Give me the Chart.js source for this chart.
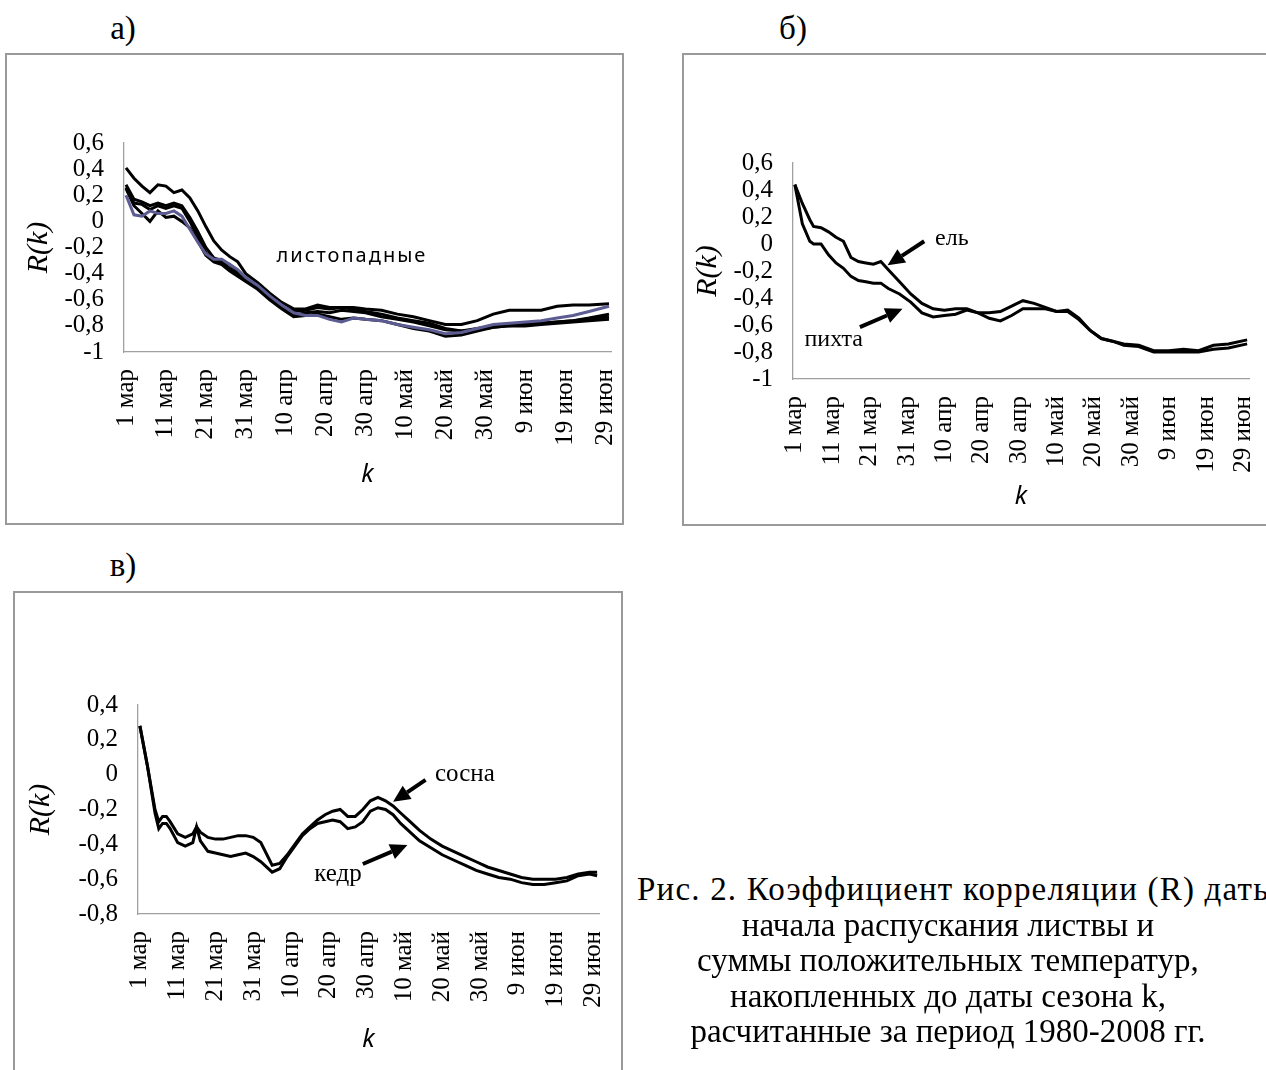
<!DOCTYPE html>
<html lang="ru">
<head>
<meta charset="utf-8">
<title>R(k)</title>
<script src="https://cdn.jsdelivr.net/npm/chart.js@4.4.1/dist/chart.umd.min.js"></script>
<style>
  html, body { margin:0; padding:0; background:#fff; }
  body { width:1266px; height:1070px; overflow:hidden; position:relative; font-family:"Liberation Serif", serif; color:#000; }
  .frame { position:absolute; border:2px solid #9a9a9a; box-sizing:border-box; }
  canvas { position:absolute; }
  .tag { position:absolute; width:60px; text-align:center; font-size:33px; line-height:34px; }
  .cap { position:absolute; font-size:33px; line-height:35.5px; white-space:nowrap; }
  .cap.first { left:637px; top:872px; letter-spacing:1.2px; }
  .cap.rest { left:548px; top:907.5px; width:800px; text-align:center; }
</style>
</head>
<body>
<div class="tag" style="left:93px;top:11px">а)</div>
<div class="tag" style="left:763px;top:11px">б)</div>
<div class="tag" style="left:93px;top:548px">в)</div>

<div class="frame" style="left:5px;top:53px;width:619px;height:472px"></div>
<div class="frame" style="left:682px;top:53px;width:700px;height:473px"></div>
<div class="frame" style="left:13px;top:591px;width:610px;height:500px"></div>

<canvas id="chartA" width="619" height="472" style="left:5px;top:53px"></canvas>
<canvas id="chartB" width="584" height="473" style="left:682px;top:53px"></canvas>
<canvas id="chartC" width="610" height="479" style="left:13px;top:591px"></canvas>

<div class="cap first">Рис. 2. Коэффициент корреляции (R) даты</div>
<div class="cap rest">начала распускания листвы и<br>суммы положительных температур,<br>накопленных до даты сезона k,<br>расчитанные за период 1980-2008 гг.</div>

<script>
// x axis: day index from 1 March (0) to 30 June (121)
var xTickDays = [0, 10, 20, 30, 40, 50, 60, 70, 80, 90, 100, 110, 120];
var xTickLabels = ['1 мар', '11 мар', '21 мар', '31 мар', '10 апр', '20 апр', '30 апр',
                   '10 май', '20 май', '30 май', '9 июн', '19 июн', '29 июн'];

var yTicksAB = [-1, -0.8, -0.6, -0.4, -0.2, 0, 0.2, 0.4, 0.6];
var yLabelsAB = ['-1', '-0,8', '-0,6', '-0,4', '-0,2', '0', '0,2', '0,4', '0,6'];
var yTicksC = [-0.8, -0.6, -0.4, -0.2, 0, 0.2, 0.4];
var yLabelsC = ['-0,8', '-0,6', '-0,4', '-0,2', '0', '0,2', '0,4'];

// а) листопадные
var daysA = [0,2,4,6,8,10,12,14,16,18,20,22,24,26,28,30,33,36,39,42,45,48,51,54,57,60,64,68,72,76,80,84,88,92,96,100,104,108,112,116,121];
var decid1 = [0.41,0.33,0.27,0.22,0.28,0.27,0.22,0.24,0.18,0.08,-0.04,-0.15,-0.22,-0.27,-0.31,-0.40,-0.47,-0.55,-0.62,-0.67,-0.67,-0.64,-0.66,-0.66,-0.66,-0.67,-0.68,-0.71,-0.73,-0.76,-0.79,-0.79,-0.76,-0.71,-0.68,-0.68,-0.68,-0.65,-0.64,-0.64,-0.63];
var decid2 = [0.28,0.17,0.15,0.12,0.14,0.12,0.14,0.12,0.03,-0.08,-0.20,-0.28,-0.30,-0.33,-0.38,-0.44,-0.50,-0.58,-0.65,-0.69,-0.68,-0.66,-0.67,-0.66,-0.67,-0.69,-0.71,-0.74,-0.76,-0.78,-0.82,-0.84,-0.83,-0.81,-0.80,-0.79,-0.78,-0.77,-0.76,-0.74,-0.71];
var decid3 = [0.26,0.14,0.13,0.09,0.12,0.10,0.12,0.10,0.00,-0.12,-0.24,-0.30,-0.31,-0.36,-0.40,-0.45,-0.51,-0.59,-0.66,-0.72,-0.70,-0.69,-0.70,-0.68,-0.69,-0.70,-0.73,-0.75,-0.77,-0.80,-0.83,-0.84,-0.82,-0.80,-0.79,-0.79,-0.78,-0.77,-0.76,-0.75,-0.73];
var decid4 = [0.25,0.12,0.06,0.00,0.08,0.03,0.04,0.00,-0.05,-0.15,-0.26,-0.31,-0.33,-0.38,-0.42,-0.46,-0.52,-0.60,-0.67,-0.73,-0.72,-0.71,-0.73,-0.75,-0.74,-0.75,-0.76,-0.79,-0.82,-0.84,-0.88,-0.87,-0.84,-0.81,-0.80,-0.80,-0.79,-0.78,-0.77,-0.76,-0.75];
var decid5 = [0.20,0.05,0.04,0.08,0.06,0.06,0.08,0.04,-0.06,-0.16,-0.25,-0.29,-0.29,-0.33,-0.37,-0.43,-0.49,-0.57,-0.64,-0.70,-0.72,-0.72,-0.75,-0.77,-0.74,-0.75,-0.76,-0.79,-0.81,-0.83,-0.86,-0.85,-0.82,-0.79,-0.78,-0.77,-0.76,-0.74,-0.72,-0.69,-0.65];

// б) ель, пихта
var daysB = [0,2,4,5,7,9,11,13,15,17,19,21,23,25,28,31,34,37,40,43,46,49,52,55,58,61,64,67,70,73,76,79,82,85,88,92,96,100,104,108,112,116,121];
var spruce = [0.44,0.30,0.18,0.13,0.12,0.09,0.05,0.02,-0.10,-0.13,-0.14,-0.15,-0.13,-0.19,-0.28,-0.37,-0.44,-0.48,-0.49,-0.48,-0.48,-0.51,-0.51,-0.50,-0.46,-0.42,-0.44,-0.47,-0.50,-0.49,-0.55,-0.64,-0.70,-0.72,-0.74,-0.75,-0.79,-0.79,-0.78,-0.79,-0.75,-0.74,-0.71];
var fir = [0.44,0.15,0.02,0.00,0.00,-0.08,-0.14,-0.18,-0.24,-0.27,-0.28,-0.29,-0.29,-0.33,-0.37,-0.43,-0.51,-0.54,-0.53,-0.52,-0.49,-0.51,-0.55,-0.57,-0.53,-0.48,-0.48,-0.48,-0.50,-0.50,-0.56,-0.64,-0.70,-0.72,-0.75,-0.76,-0.80,-0.80,-0.80,-0.80,-0.78,-0.77,-0.74];

// в) сосна, кедр
var daysC = [0,2,4,5,6,7,8,10,12,14,15,16,18,20,22,24,26,28,30,32,35,37,39,41,43,45,47,49,51,53,55,57,59,61,63,65,67,69,71,74,77,80,83,86,89,92,95,98,101,104,107,110,113,116,119,121];
var pine = [0.28,0.05,-0.20,-0.27,-0.24,-0.24,-0.27,-0.34,-0.36,-0.34,-0.30,-0.33,-0.36,-0.37,-0.37,-0.36,-0.35,-0.35,-0.36,-0.39,-0.52,-0.51,-0.46,-0.40,-0.34,-0.30,-0.26,-0.23,-0.21,-0.20,-0.24,-0.24,-0.20,-0.15,-0.13,-0.15,-0.18,-0.22,-0.26,-0.32,-0.37,-0.41,-0.44,-0.47,-0.50,-0.53,-0.55,-0.57,-0.59,-0.60,-0.60,-0.60,-0.59,-0.57,-0.56,-0.56];
var cedar = [0.28,0.05,-0.22,-0.31,-0.28,-0.28,-0.31,-0.39,-0.41,-0.39,-0.30,-0.38,-0.44,-0.45,-0.46,-0.47,-0.46,-0.45,-0.47,-0.50,-0.56,-0.54,-0.47,-0.41,-0.35,-0.31,-0.28,-0.27,-0.26,-0.27,-0.31,-0.30,-0.27,-0.21,-0.19,-0.20,-0.23,-0.28,-0.32,-0.38,-0.42,-0.46,-0.49,-0.52,-0.55,-0.57,-0.59,-0.60,-0.62,-0.63,-0.63,-0.62,-0.61,-0.58,-0.57,-0.58];

Chart.defaults.animation = false;
Chart.defaults.color = '#000';
Chart.defaults.events = [];

// text labels and arrows placed in data units
Chart.register({
  id: 'notes',
  afterDatasetsDraw: function(chart, args, opts) {
    var ctx = chart.ctx, sx = chart.scales.x, sy = chart.scales.y;
    (opts.items || []).forEach(function(n) {
      ctx.save();
      if (n.text) {
        ctx.font = n.font;
        ctx.letterSpacing = n.spacing || '0px';
        ctx.fillStyle = '#000';
        ctx.textAlign = 'center';
        ctx.textBaseline = 'middle';
        ctx.fillText(n.text, sx.getPixelForValue(n.x), sy.getPixelForValue(n.y));
      }
      if (n.from) {
        var x1 = sx.getPixelForValue(n.from[0]), y1 = sy.getPixelForValue(n.from[1]);
        var x2 = sx.getPixelForValue(n.to[0]), y2 = sy.getPixelForValue(n.to[1]);
        var a = Math.atan2(y2 - y1, x2 - x1), hl = 17, hw = 8;
        var bx = x2 - hl * Math.cos(a), by = y2 - hl * Math.sin(a);
        ctx.strokeStyle = '#000';
        ctx.fillStyle = '#000';
        ctx.lineWidth = 4;
        ctx.beginPath();
        ctx.moveTo(x1, y1);
        ctx.lineTo(bx, by);
        ctx.stroke();
        ctx.beginPath();
        ctx.moveTo(x2, y2);
        ctx.lineTo(bx + hw * Math.sin(a), by - hw * Math.cos(a));
        ctx.lineTo(bx - hw * Math.sin(a), by + hw * Math.cos(a));
        ctx.closePath();
        ctx.fill();
      }
      ctx.restore();
    });
  }
});

function series(days, vals, color) {
  return {
    data: days.map(function(d, i) { return {x: d, y: vals[i]}; }),
    borderColor: color,
    borderWidth: 3,
    pointRadius: 0,
    tension: 0,
    fill: false
  };
}

function makeChart(id, datasets, g, yTicks, yLabels, notes) {
  return new Chart(document.getElementById(id), {
    type: 'line',
    data: {datasets: datasets},
    options: {
      responsive: false,
      layout: {padding: {top: g.padTop, right: g.padRight, left: 0, bottom: 0}},
      plugins: {legend: {display: false}, tooltip: {enabled: false}, notes: {items: notes}},
      scales: {
        x: {
          type: 'linear',
          min: -0.5,
          max: 121.5,
          grid: {display: false, drawTicks: false},
          border: {display: true, color: '#a0a0a0', width: 1.3},
          afterBuildTicks: function(s) { s.ticks = xTickDays.map(function(v) { return {value: v}; }); },
          afterFit: function(s) { s.height = g.xHeight; s.paddingLeft = 0; s.paddingRight = 0; },
          ticks: {
            autoSkip: false,
            minRotation: 90,
            maxRotation: 90,
            padding: 17,
            font: {family: 'Liberation Serif', size: 25},
            callback: function(v, i) { return xTickLabels[i]; }
          },
          title: {
            display: true,
            text: 'k',
            font: {family: 'Noto Sans', size: 25, style: 'italic'},
            padding: {top: 0, bottom: g.xTitlePad}
          }
        },
        y: {
          min: yTicks[0],
          max: yTicks[yTicks.length - 1],
          grid: {display: false, drawTicks: false},
          border: {display: true, color: '#a0a0a0', width: 1.3},
          afterBuildTicks: function(s) { s.ticks = yTicks.map(function(v) { return {value: v}; }); },
          afterFit: function(s) { s.width = g.yWidth; s.paddingTop = 0; s.paddingBottom = 0; },
          ticks: {
            autoSkip: false,
            padding: 20,
            font: {family: 'Liberation Serif', size: 25},
            callback: function(v, i) { return yLabels[i]; }
          },
          title: {
            display: true,
            text: 'R(k)',
            font: {family: 'Liberation Serif', size: 30, style: 'italic'},
            padding: {top: g.yTitlePad, bottom: 0}
          }
        }
      }
    }
  });
}

makeChart('chartA', [
    series(daysA, decid5, '#5c5c92'),
    series(daysA, decid1, '#000'),
    series(daysA, decid2, '#000'),
    series(daysA, decid3, '#000'),
    series(daysA, decid4, '#000')
  ],
  {padTop: 90, padRight: 13, yWidth: 119, xHeight: 173, yTitlePad: 16, xTitlePad: 35},
  yTicksAB, yLabelsAB,
  [{text: 'листопадные', x: 56.6, y: -0.27, font: "20px 'Noto Sans'", spacing: '2px'}]);

makeChart('chartB', [series(daysB, spruce, '#000'), series(daysB, fir, '#000')],
  {padTop: 110, padRight: 17, yWidth: 111, xHeight: 147, yTitlePad: 8, xTitlePad: 14},
  yTicksAB, yLabelsAB,
  [{text: 'ель', x: 42.0, y: 0.04, font: "24px 'Liberation Serif'", from: [34.6, 0.02], to: [24.8, -0.157]},
   {text: 'пихта', x: 10.4, y: -0.71, font: "24px 'Liberation Serif'", from: [17.4, -0.616], to: [28.8, -0.48]}]);

makeChart('chartC', [series(daysC, pine, '#000'), series(daysC, cedar, '#000')],
  {padTop: 114, padRight: 24, yWidth: 125, xHeight: 156, yTitlePad: 10, xTitlePad: 15},
  yTicksC, yLabelsC,
  [{text: 'сосна', x: 86.0, y: 0.0, font: "25px 'Liberation Serif'", from: [75.6, -0.03], to: [67.0, -0.156]},
   {text: 'кедр', x: 52.4, y: -0.575, font: "25px 'Liberation Serif'", from: [59.0, -0.513], to: [70.8, -0.404]}]);
</script>
</body>
</html>
